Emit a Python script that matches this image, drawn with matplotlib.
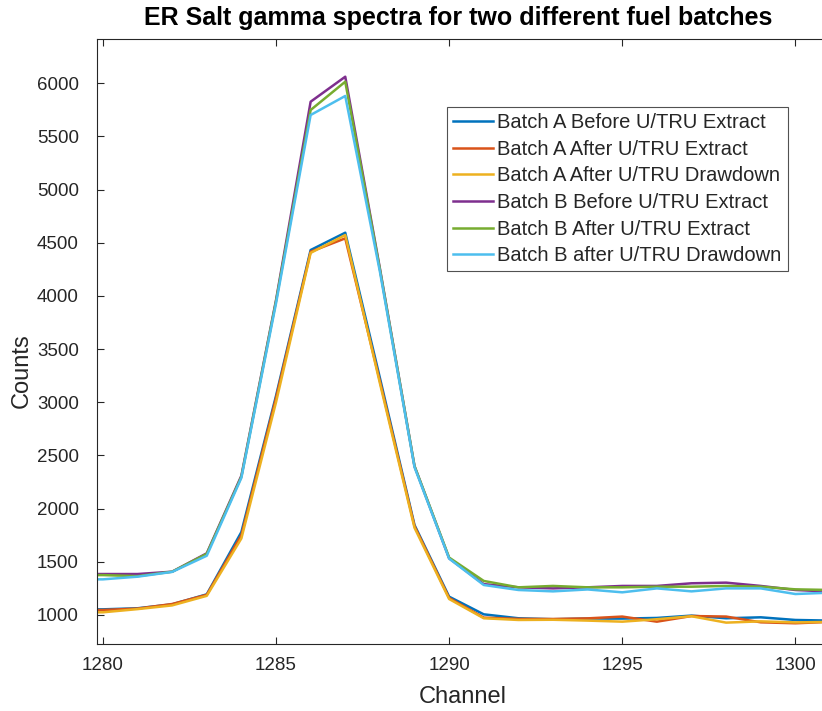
import matplotlib
matplotlib.use("Agg")
import matplotlib.pyplot as plt

plt.rcParams['font.family'] = ['Liberation Sans', 'DejaVu Sans']

channels = list(range(1279, 1302))

batch_a_before = [1053, 1053, 1063, 1100, 1194, 1780, 3060, 4432, 4595, 3230, 1846, 1172, 1006, 969, 960, 966, 966, 972, 994, 969, 978, 953, 947]
batch_a_after_extract = [1047, 1047, 1060, 1103, 1190, 1750, 3040, 4416, 4542, 3200, 1835, 1160, 975, 963, 962, 968, 985, 937, 990, 985, 931, 922, 935]
batch_a_after_drawdown = [1025, 1025, 1055, 1090, 1180, 1720, 3000, 4405, 4573, 3180, 1820, 1150, 969, 953, 955, 947, 937, 960, 988, 928, 940, 930, 935]
batch_b_before = [1385, 1385, 1385, 1407, 1580, 2310, 3960, 5827, 6062, 4260, 2400, 1533, 1290, 1260, 1250, 1260, 1273, 1273, 1298, 1304, 1273, 1235, 1220]
batch_b_after_extract = [1375, 1375, 1365, 1407, 1575, 2300, 3950, 5749, 6015, 4250, 2400, 1540, 1320, 1260, 1273, 1260, 1260, 1266, 1266, 1273, 1266, 1241, 1235]
batch_b_after_drawdown = [1335, 1335, 1360, 1405, 1557, 2290, 3930, 5702, 5881, 4230, 2390, 1530, 1282, 1235, 1222, 1240, 1213, 1250, 1222, 1250, 1250, 1197, 1210]

series = [
    ("Batch A Before U/TRU Extract", batch_a_before, "#0072BD"),
    ("Batch A After U/TRU Extract", batch_a_after_extract, "#D95319"),
    ("Batch A After U/TRU Drawdown", batch_a_after_drawdown, "#EDB120"),
    ("Batch B Before U/TRU Extract", batch_b_before, "#7E2F8E"),
    ("Batch B After U/TRU Extract", batch_b_after_extract, "#77AC30"),
    ("Batch B after U/TRU Drawdown", batch_b_after_drawdown, "#4DBEEE"),
]

xticks = [1280, 1285, 1290, 1295, 1300]
yticks = [1000, 1500, 2000, 2500, 3000, 3500, 4000, 4500, 5000, 5500, 6000]

W, H = 822, 711
fig = plt.figure(figsize=(W / 100, H / 100), dpi=100)
left, right, bottom, top = 97, 830, 644, 39.5
ax = fig.add_axes([left / W, (H - bottom) / H, (right - left) / W, (bottom - top) / H])

for label, vals, color in series:
    ax.plot(channels, vals, color=color, lw=1.8, label=label)

ax.set_xlim(1279.83, 1301.0)
ax.set_ylim(727, 6412)
ax.set_xticks(xticks)
ax.set_yticks(yticks)
ax.tick_params(direction='in', length=5, width=0.8, top=True, right=True,
               labelsize=13.5, colors='#262626')
ax.tick_params(axis='y', pad=13)
ax.tick_params(axis='x', pad=9)
for s in ax.spines.values():
    s.set_color('#262626')
    s.set_linewidth(0.8)

ax.set_xlabel("Channel", fontsize=17, color='#262626')
ax.xaxis.set_label_coords(0.4995, -(697 - 644) / (644 - 39.5), transform=ax.transAxes)
ax.set_ylabel("Counts", fontsize=17, color='#262626')
ax.yaxis.set_label_coords((22 - 97) / 733, (644 - 371) / (644 - 39.5), transform=ax.transAxes)
ax.xaxis.label.set_va('center')
ax.yaxis.label.set_va('center')

fig.text(458 / W, 1 - 18 / H, "ER Salt gamma spectra for two different fuel batches",
         ha='center', va='center', fontsize=18, fontweight='bold', color='black')

leg = ax.legend(loc='upper left', bbox_to_anchor=(447 / W, 1 - 107 / H),
                bbox_transform=fig.transFigure, fontsize=14.5, frameon=True,
                fancybox=False, edgecolor='#262626', handlelength=2.0,
                handletextpad=0.2, borderpad=0.3, labelspacing=0.38, borderaxespad=0)
leg.get_frame().set_linewidth(0.8)
for t in leg.get_texts():
    t.set_color('#262626')

fig.savefig("out.png", dpi=100)
